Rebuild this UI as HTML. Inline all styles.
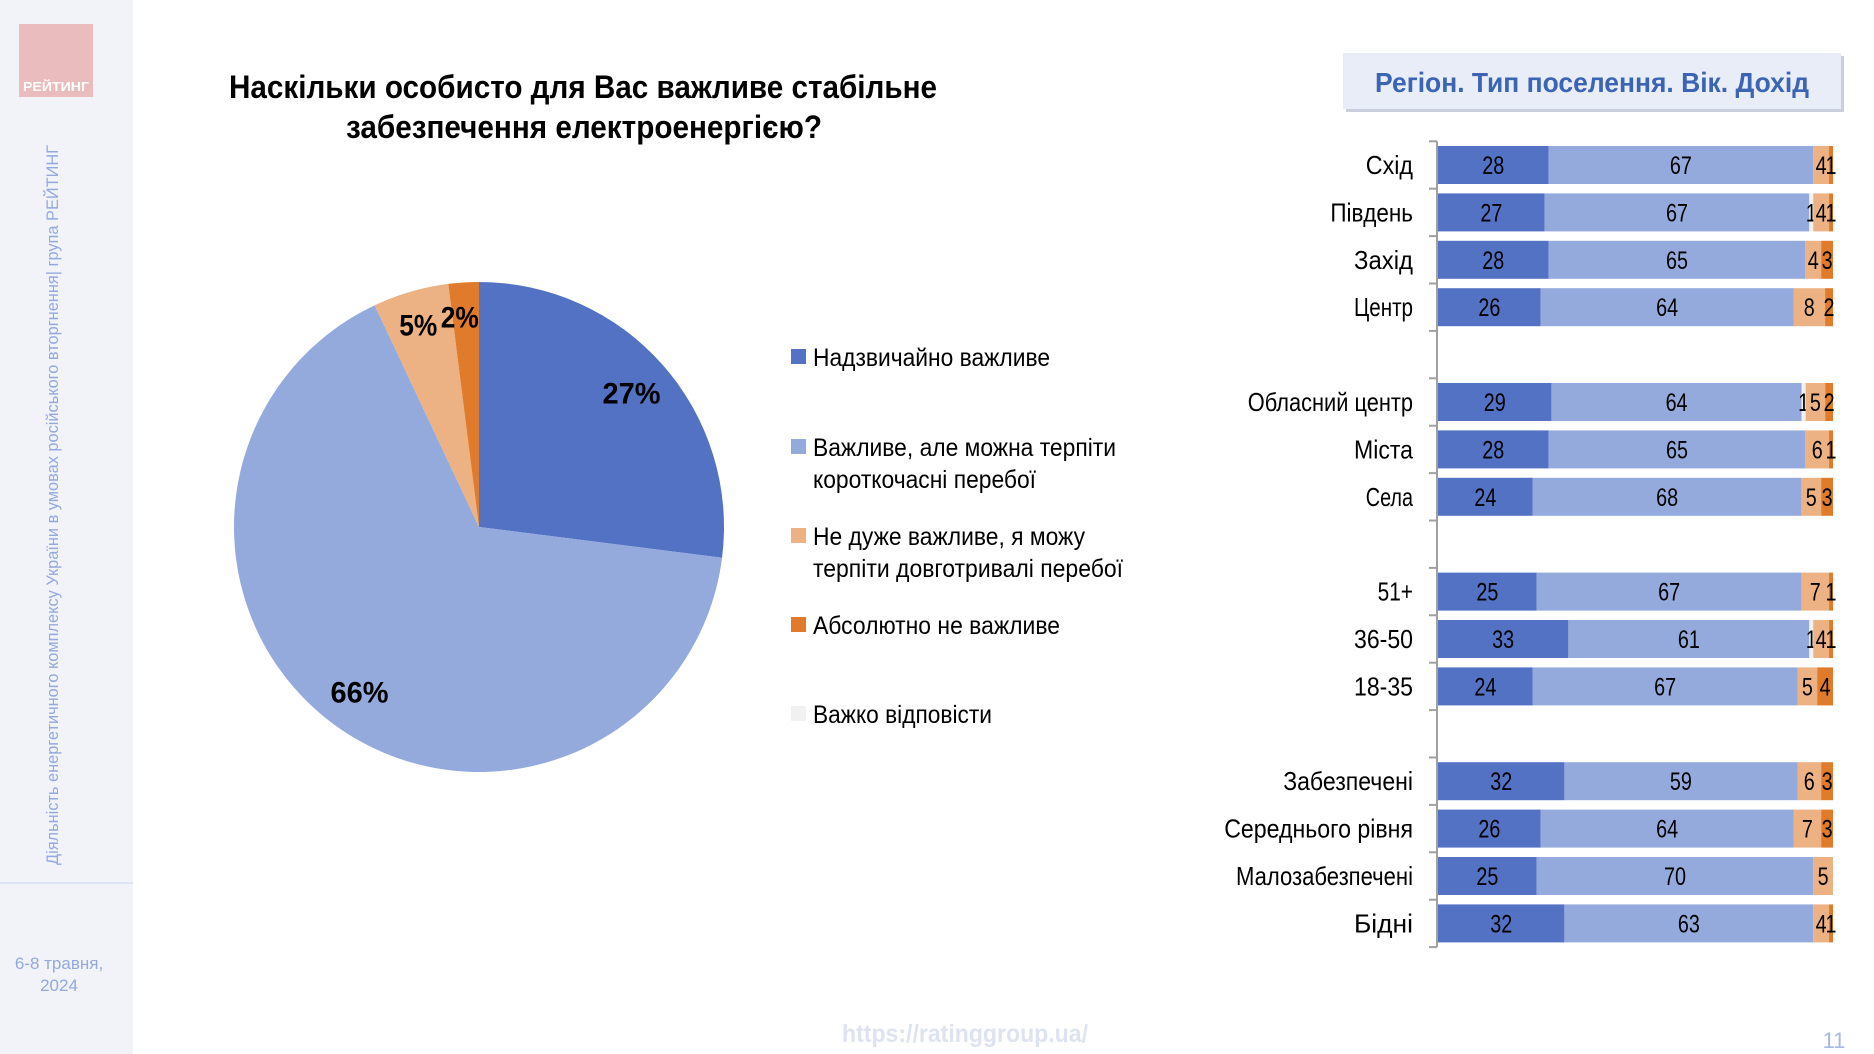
<!DOCTYPE html>
<html><head><meta charset="utf-8"><style>
html,body{margin:0;padding:0;background:#fff;}
svg{display:block;font-family:"Liberation Sans",sans-serif;}
</style></head><body>
<svg id="root" width="1874" height="1054" viewBox="0 0 1874 1054" xmlns="http://www.w3.org/2000/svg">
<rect x="0" y="0" width="133" height="1054" fill="#f2f3f9"/>
<rect x="19" y="24" width="74" height="73" fill="#ebbcbd"/>
<text x="56" y="91" text-anchor="middle" font-size="13" font-weight="bold" fill="#fff" textLength="66" lengthAdjust="spacingAndGlyphs">РЕЙТИНГ</text>
<text transform="translate(58,505) rotate(-90)" text-anchor="middle" font-size="17" fill="#93a8dd" textLength="720" lengthAdjust="spacingAndGlyphs">Діяльність енергетичного комплексу України в умовах російського вторгнення| група РЕЙТИНГ</text>
<rect x="0" y="882" width="133" height="2" fill="#dde4f4"/>
<text x="59" y="969" text-anchor="middle" font-size="17" fill="#93a8dd">6-8 травня,</text>
<text x="59" y="991" text-anchor="middle" font-size="17" fill="#93a8dd">2024</text>

<text x="583" y="98" text-anchor="middle" font-size="32" font-weight="bold" fill="#000" textLength="708" lengthAdjust="spacingAndGlyphs">Наскільки особисто для Вас важливе стабільне</text>
<text x="584" y="138" text-anchor="middle" font-size="32" font-weight="bold" fill="#000" textLength="476" lengthAdjust="spacingAndGlyphs">забезпечення електроенергією?</text>

<g id="pie"></g>
<g id="legend"></g>

<rect x="1346" y="56" width="498" height="56" fill="#c9cfdc"/>
<rect x="1343" y="53" width="498" height="56" fill="#e8edf8"/>
<text x="1592" y="92" text-anchor="middle" font-size="28" font-weight="bold" fill="#3b64b4" textLength="434" lengthAdjust="spacingAndGlyphs">Регіон. Тип поселення. Вік. Дохід</text>

<g id="bars"></g>

<text x="965" y="1042" text-anchor="middle" font-size="25" font-weight="bold" fill="#dde3f1" textLength="246" lengthAdjust="spacingAndGlyphs">https://ratinggroup.ua/</text>
<text x="1834" y="1048" text-anchor="middle" font-size="22" fill="#a6b7e0">11</text>
</svg>
<script>
const NS='http://www.w3.org/2000/svg';
const colors=['#5372c4','#94aadd','#f1f1f1','#ecb283','#e07b2b'];
// pie
const pieValues=[27,66,0,5,2];
const pieLabels=['27%','66%','','5%','2%'];
const legendLabels=[['Надзвичайно важливе'],['Важливе, але можна терпіти','короткочасні перебої'],['Важко відповісти'],['Не дуже важливе, я можу','терпіти довготривалі перебої'],['Абсолютно не важливе']];
// bars
const categories=['Схід','Південь','Захід','Центр','','Обласний центр','Міста','Села','','51+','36-50','18-35','','Забезпечені','Середнього рівня','Малозабезпечені','Бідні'];
const s1=[28,27,28,26,null,29,28,24,null,25,33,24,null,32,26,25,32];
const s2=[67,67,65,64,null,64,65,68,null,67,61,67,null,59,64,70,63];
const s3=[0,1,0,0,null,1,0,0,null,0,1,0,null,0,0,0,0];
const s4=[4,4,4,8,null,5,6,5,null,7,4,5,null,6,7,5,4];
const s5=[1,1,3,2,null,2,1,3,null,1,1,4,null,3,3,0,1];

function mk(tag,attrs,parent){const e=document.createElementNS(NS,tag);for(const k in attrs)e.setAttribute(k,attrs[k]);parent.appendChild(e);return e;}

// pie drawing
const pie=document.getElementById('pie');
const cx=479,cy=527,R=245;
const tot=pieValues.reduce((a,b)=>a+b,0);
const order=[0,1,3,4,2];
let ang=-Math.PI/2;
const slNames=['slice-extremely-important','slice-important','slice-hard-to-say','slice-not-very-important','slice-not-important'];
order.forEach(i=>{
  const v=pieValues[i]; if(!v) return;
  const a2=ang+v/tot*2*Math.PI;
  const x1=cx+R*Math.cos(ang),y1=cy+R*Math.sin(ang),x2=cx+R*Math.cos(a2),y2=cy+R*Math.sin(a2);
  const p=mk('path',{d:`M${cx},${cy}L${x1},${y1}A${R},${R} 0 ${(a2-ang)>Math.PI?1:0} 1 ${x2},${y2}Z`,fill:colors[i]},pie);
  
  
  const mid=(ang+a2)/2;
  const lr = v<10 ? R*0.86 : R*0.83;
  let lx=cx+lr*Math.cos(mid), ly=cy+lr*Math.sin(mid);
  if(v<10 && i===3){lx-=2;}
  if(v<10 && i===4){lx-=6;}
  const t=mk('text',{x:lx,y:ly+11,'text-anchor':'middle','font-size':30,'font-weight':'bold',fill:'#000',textLength:(v<10?38:58),lengthAdjust:'spacingAndGlyphs'},pie);
  t.textContent=pieLabels[i];
  
  
  ang=a2;
});

// legend
const leg=document.getElementById('legend');
const legY=[357,447,714,536,625];
const legW=[[237],[303,223],[179],[272,310],[247]];
legendLabels.forEach((lines,i)=>{
  const r=mk('rect',{x:791,y:legY[i]-8,width:15,height:15,fill:colors[i]},leg);
  
  
  lines.forEach((ln,j)=>{
    const t=mk('text',{x:813,y:legY[i]+9+j*32,'font-size':25,fill:'#000',textLength:legW[i][j],lengthAdjust:'spacingAndGlyphs'},leg);
    t.textContent=ln;
    
    
  });
});

// bars
const bars=document.getElementById('bars');
const x0=1438, W=395, y0=165, step=47.4, bh=38;
const yOf=i=>y0+i*step;
const ax=mk('line',{x1:x0-1,x2:x0-1,y1:yOf(0)-step/2,y2:yOf(categories.length-1)+step/2,stroke:'#a0a0a0','stroke-width':2},bars);


for(let k=0;k<=categories.length;k++){
  const yy=yOf(k)-step/2;
  const tk=mk('line',{x1:x0-9,x2:x0-1,y1:yy,y2:yy,stroke:'#a0a0a0','stroke-width':2},bars);
  
  
}
const series=[s1,s2,s3,s4,s5];
const segNames=['bar-extremely-important','bar-important','bar-hard-to-say','bar-not-very-important','bar-not-important'];
categories.forEach((c,i)=>{
  if(s1[i]===null) return;
  const rowTot=series.reduce((a,s)=>a+(s[i]||0),0);
  const xs=v=>v/rowTot*W;
  const yc=yOf(i);
  const lab=mk('text',{x:1413,y:yc+9,'text-anchor':'end','font-size':26,fill:'#000',textLength:c.length*11.8,lengthAdjust:'spacingAndGlyphs'},bars);
  lab.textContent=c;
  
  
  let acc=0;
  series.forEach((s,k)=>{
    const v=s[i]; if(!v) return;
    const r=mk('rect',{x:x0+xs(acc),y:yc-bh/2,width:xs(v),height:bh,fill:colors[k]},bars);
    
    
    const t=mk('text',{x:x0+xs(acc+v/2),y:yc+9,'text-anchor':'middle','font-size':25,fill:'#000'},bars);
    t.setAttribute('textLength',v<10?11:22);
    t.setAttribute('lengthAdjust','spacingAndGlyphs');
    t.textContent=v;
    
    
    acc+=v;
  });
});
</script>
</body></html>
